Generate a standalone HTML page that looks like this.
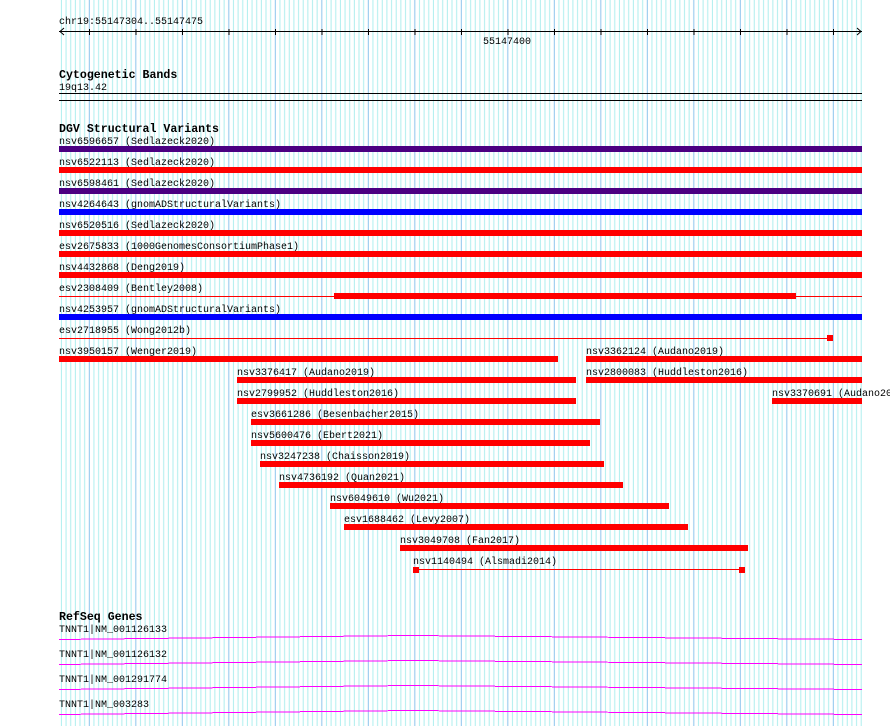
<!DOCTYPE html>
<html><head><meta charset="utf-8"><style>
html,body{margin:0;padding:0;background:#fff;width:890px;height:726px;overflow:hidden}
svg{display:block}
text{font-family:"Liberation Mono","DejaVu Sans Mono",monospace;font-size:10px;fill:#000}
.b{font-weight:bold;font-size:11.6px}
</style></head><body>
<svg width="890" height="726" viewBox="0 0 890 726" xmlns="http://www.w3.org/2000/svg">
<defs>
<pattern id="g" x="60.9" y="0" width="46.5" height="726" patternUnits="userSpaceOnUse">
<rect x="0" y="0" width="1" height="726" fill="#aeeeee"/>
<rect x="4.65" y="0" width="1" height="726" fill="#aeeeee"/>
<rect x="9.3" y="0" width="1" height="726" fill="#aeeeee"/>
<rect x="13.95" y="0" width="1" height="726" fill="#aeeeee"/>
<rect x="18.6" y="0" width="1" height="726" fill="#aeeeee"/>
<rect x="23.25" y="0" width="1" height="726" fill="#aeeeee"/>
<rect x="27.9" y="0" width="1" height="726" fill="#8cc4ec"/>
<rect x="32.55" y="0" width="1" height="726" fill="#aeeeee"/>
<rect x="37.2" y="0" width="1" height="726" fill="#aeeeee"/>
<rect x="41.85" y="0" width="1" height="726" fill="#aeeeee"/>
</pattern>
</defs>
<rect x="60" y="0" width="802" height="726" fill="url(#g)"/>
<!-- ruler -->
<text x="59" y="24">chr19:55147304..55147475</text>
<g stroke="#000" stroke-width="1" shape-rendering="crispEdges">
<line x1="59" y1="31.5" x2="862" y2="31.5"/>
</g>
<g stroke="#000" stroke-width="1" fill="none">
<polyline points="64,28 60,31.5 64,35"/>
<polyline points="857,28 861,31.5 857,35"/>
</g>
<g stroke="#000" stroke-width="1" shape-rendering="crispEdges">
<line x1="89.3" y1="29" x2="89.3" y2="35"/><line x1="135.8" y1="29" x2="135.8" y2="35"/>
<line x1="182.3" y1="29" x2="182.3" y2="35"/><line x1="228.8" y1="29" x2="228.8" y2="35"/>
<line x1="275.3" y1="29" x2="275.3" y2="35"/><line x1="321.8" y1="29" x2="321.8" y2="35"/>
<line x1="368.3" y1="29" x2="368.3" y2="35"/><line x1="414.8" y1="29" x2="414.8" y2="35"/>
<line x1="461.3" y1="29" x2="461.3" y2="35"/><line x1="507.8" y1="29" x2="507.8" y2="35"/>
<line x1="554.3" y1="29" x2="554.3" y2="35"/><line x1="600.8" y1="29" x2="600.8" y2="35"/>
<line x1="647.3" y1="29" x2="647.3" y2="35"/><line x1="693.8" y1="29" x2="693.8" y2="35"/>
<line x1="740.3" y1="29" x2="740.3" y2="35"/><line x1="786.8" y1="29" x2="786.8" y2="35"/>
<line x1="833.3" y1="29" x2="833.3" y2="35"/>
</g>
<text x="483" y="44">55147400</text>
<!-- cytobands -->
<text class="b" x="59" y="78">Cytogenetic Bands</text>
<text x="59" y="90">19q13.42</text>
<rect x="59" y="93" width="803" height="1" fill="#000"/>
<rect x="59" y="100" width="803" height="1" fill="#000"/>
<!-- DGV -->
<text class="b" x="59" y="132">DGV Structural Variants</text>
<g shape-rendering="crispEdges">
<text x="59" y="144">nsv6596657 (Sedlazeck2020)</text><rect x="59" y="146" width="803" height="6" fill="#4b0082"/>
<text x="59" y="165">nsv6522113 (Sedlazeck2020)</text><rect x="59" y="167" width="803" height="6" fill="#ff0000"/>
<text x="59" y="186">nsv6598461 (Sedlazeck2020)</text><rect x="59" y="188" width="803" height="6" fill="#4b0082"/>
<text x="59" y="207">nsv4264643 (gnomADStructuralVariants)</text><rect x="59" y="209" width="803" height="6" fill="#0000ff"/>
<text x="59" y="228">nsv6520516 (Sedlazeck2020)</text><rect x="59" y="230" width="803" height="6" fill="#ff0000"/>
<text x="59" y="249">esv2675833 (1000GenomesConsortiumPhase1)</text><rect x="59" y="251" width="803" height="6" fill="#ff0000"/>
<text x="59" y="270">nsv4432868 (Deng2019)</text><rect x="59" y="272" width="803" height="6" fill="#ff0000"/>
<text x="59" y="291">esv2308409 (Bentley2008)</text><rect x="59" y="296" width="803" height="1" fill="#ff0000"/><rect x="334" y="293" width="462" height="6" fill="#ff0000"/>
<text x="59" y="312">nsv4253957 (gnomADStructuralVariants)</text><rect x="59" y="314" width="803" height="6" fill="#0000ff"/>
<text x="59" y="333">esv2718955 (Wong2012b)</text><rect x="59" y="338" width="770" height="1" fill="#ff0000"/><rect x="827" y="335" width="6" height="6" fill="#ff0000"/>
<text x="59" y="354">nsv3950157 (Wenger2019)</text><rect x="59" y="356" width="499" height="6" fill="#ff0000"/>
<text x="586" y="354">nsv3362124 (Audano2019)</text><rect x="586" y="356" width="276" height="6" fill="#ff0000"/>
<text x="237" y="375">nsv3376417 (Audano2019)</text><rect x="237" y="377" width="339" height="6" fill="#ff0000"/>
<text x="586" y="375">nsv2800083 (Huddleston2016)</text><rect x="586" y="377" width="276" height="6" fill="#ff0000"/>
<text x="237" y="396">nsv2799952 (Huddleston2016)</text><rect x="237" y="398" width="339" height="6" fill="#ff0000"/>
<text x="772" y="396">nsv3370691 (Audano2019)</text><rect x="772" y="398" width="90" height="6" fill="#ff0000"/>
<text x="251" y="417">esv3661286 (Besenbacher2015)</text><rect x="251" y="419" width="349" height="6" fill="#ff0000"/>
<text x="251" y="438">nsv5600476 (Ebert2021)</text><rect x="251" y="440" width="339" height="6" fill="#ff0000"/>
<text x="260" y="459">nsv3247238 (Chaisson2019)</text><rect x="260" y="461" width="344" height="6" fill="#ff0000"/>
<text x="279" y="480">nsv4736192 (Quan2021)</text><rect x="279" y="482" width="344" height="6" fill="#ff0000"/>
<text x="330" y="501">nsv6049610 (Wu2021)</text><rect x="330" y="503" width="339" height="6" fill="#ff0000"/>
<text x="344" y="522">esv1688462 (Levy2007)</text><rect x="344" y="524" width="344" height="6" fill="#ff0000"/>
<text x="400" y="543">nsv3049708 (Fan2017)</text><rect x="400" y="545" width="348" height="6" fill="#ff0000"/>
<text x="413" y="564">nsv1140494 (Alsmadi2014)</text><rect x="415" y="569" width="328" height="1" fill="#ff0000"/><rect x="413" y="567" width="6" height="6" fill="#ff0000"/><rect x="739" y="567" width="6" height="6" fill="#ff0000"/>
</g>
<!-- RefSeq -->
<text class="b" x="59" y="620">RefSeq Genes</text>
<text x="59" y="632">TNNT1|NM_001126133</text>
<text x="59" y="657">TNNT1|NM_001126132</text>
<text x="59" y="682">TNNT1|NM_001291774</text>
<text x="59" y="707">TNNT1|NM_003283</text>
<g fill="none" stroke="#ff00ff" stroke-width="1" shape-rendering="crispEdges">
<polyline points="59,639.5 410,635.5 862,639.5"/>
<polyline points="59,664.5 410,660.5 862,664.5"/>
<polyline points="59,689.5 410,685.5 862,689.5"/>
<polyline points="59,714.5 410,710.5 862,714.5"/>
</g>
</svg>
</body></html>
